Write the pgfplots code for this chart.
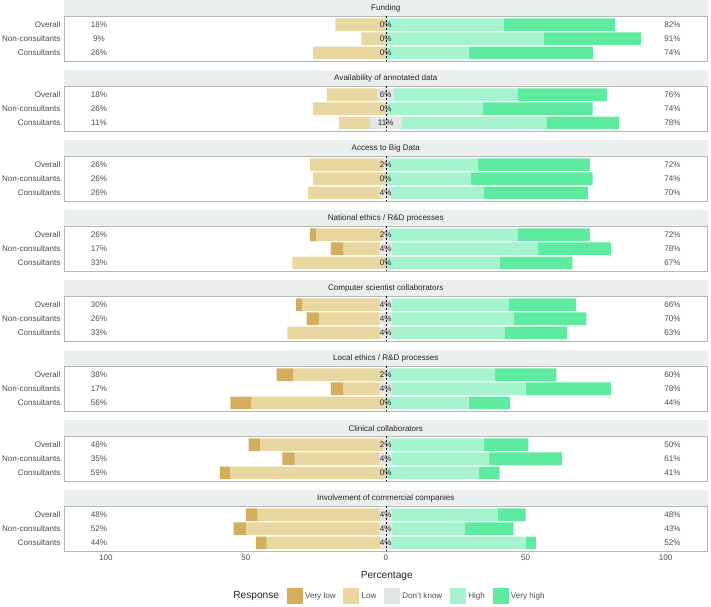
\documentclass[border=0pt]{standalone}
\usepackage{pgfplots}
\pgfplotsset{compat=1.18}
\usepackage{pgfplotstable}
\usepackage{fontspec}
\setmainfont{Liberation Sans}

\definecolor{cVL}{HTML}{D3AE5C}
\definecolor{cL}{HTML}{E9D7A1}
\definecolor{cN}{HTML}{E2E6E5}
\definecolor{cH}{HTML}{A5F4CF}
\definecolor{cVH}{HTML}{5EEBA0}
\definecolor{stripc}{HTML}{EBEFEE}
\definecolor{framec}{HTML}{B8B8B8}
\definecolor{txt}{HTML}{4D4D4D}
\definecolor{dtxt}{HTML}{262626}

% columns: y = row (1 Overall, 2 Non-consultants, 3 Consultants),
% s = left start of the bar (percent, 0 = centre), vl l n h vh = percentages,
% lp np hp = printed labels.  The x axis is drawn with its 0 at x = 200.
\pgfplotstableread{
y s vl l n h vh lp np hp
1 -18.00 0 18.00 0 42.00 40.00 18 0 82
2 -8.70 0 8.70 0 56.52 34.78 9 0 91
3 -25.93 0 25.93 0 29.63 44.44 26 0 74
}\tA
\pgfplotstableread{
y s vl l n h vh lp np hp
1 -21.00 0 18.00 6.00 44.00 32.00 18 6 76
2 -26.09 0 26.09 0 34.78 39.13 26 0 74
3 -16.67 0 11.11 11.11 51.85 25.93 11 11 78
}\tB
\pgfplotstableread{
y s vl l n h vh lp np hp
1 -27.00 0 26.00 2.00 32.00 40.00 26 2 72
2 -26.09 0 26.09 0 30.43 43.48 26 0 74
3 -27.78 0 25.93 3.70 33.33 37.04 26 4 70
}\tC
\pgfplotstableread{
y s vl l n h vh lp np hp
1 -27.00 2.00 24.00 2.00 46.00 26.00 26 2 72
2 -19.57 4.35 13.04 4.35 52.17 26.09 17 4 78
3 -33.33 0 33.33 0 40.74 25.93 33 0 67
}\tD
\pgfplotstableread{
y s vl l n h vh lp np hp
1 -32.00 2.00 28.00 4.00 42.00 24.00 30 4 66
2 -28.26 4.35 21.74 4.35 43.48 26.09 26 4 70
3 -35.19 0 33.33 3.70 40.74 22.22 33 4 63
}\tE
\pgfplotstableread{
y s vl l n h vh lp np hp
1 -39.00 6.00 32.00 2.00 38.00 22.00 38 2 60
2 -19.57 4.35 13.04 4.35 47.83 30.43 17 4 78
3 -55.56 7.41 48.15 0 29.63 14.81 56 0 44
}\tF
\pgfplotstableread{
y s vl l n h vh lp np hp
1 -49.00 4.00 44.00 2.00 34.00 16.00 48 2 50
2 -36.96 4.35 30.43 4.35 34.78 26.09 35 4 61
3 -59.26 3.70 55.56 0 33.33 7.41 59 0 41
}\tG
\pgfplotstableread{
y s vl l n h vh lp np hp
1 -50.00 4.00 44.00 4.00 38.00 10.00 48 4 48
2 -54.35 4.35 47.83 4.35 26.09 17.39 52 4 43
3 -46.30 3.70 40.74 3.70 48.15 3.70 44 4 52
}\tH

\newcommand\fsm{\fontsize{8.1}{9.5}\selectfont}
\newcommand\fbig{\fontsize{10.2}{12}\selectfont}

\pgfplotsset{
  facetbase/.style={
    width=643.5bp, height=45bp, scale only axis,
    xmin=85, xmax=315, ymin=0.4, ymax=3.6, y dir=reverse,
    anchor=north west,
    /pgf/number format/assume math mode=true,
  },
  barsaxis/.style={facetbase,
    xbar stacked, bar width=0.9,
    axis line style={framec, line width=0.6bp},
    ytick={1,2,3}, yticklabels={Overall,Non-consultants,Consultants},
    xtick=\empty,
    major tick length=0pt,
    tick label style={font=\fsm, text=txt},
    every axis title shift=0pt,
    title style={at={(0.5,1)}, anchor=south, fill=stripc,
      minimum width=643.5bp, minimum height=15.8bp, inner sep=0pt,
      font=\fsm, text=dtxt},
  },
  labaxis/.style={facetbase, hide axis, clip=false},
  sq/.style={legend image code/.code={\fill[##1] (0bp,-8bp) rectangle (16bp,8bp);}},
  labs/.style={only marks, mark=none, nodes near coords={\pgfmathprintnumber[fixed,precision=0]{\pgfplotspointmeta}\%},
    point meta=explicit, nodes near coords align={anchor=center},
    every node near coord/.append style={font=\fsm, text=#1, inner sep=0pt}},
}

% #1 index, #2 title, #3 table, #4 extra axis options
\newcommand\facet[4]{%
  \begin{axis}[barsaxis, at={(0bp,-70bp*#1)}, title={#2}, #4]
    \addplot[fill=none, draw=none] table[x expr=\thisrow{s}+200, y=y] {#3};
    \addplot[fill=cVL, draw=none] table[x=vl, y=y] {#3};
    \addplot[fill=cL,  draw=none] table[x=l,  y=y] {#3};
    \addplot[fill=cN,  draw=none] table[x=n,  y=y] {#3};
    \addplot[fill=cH,  draw=none] table[x=h,  y=y] {#3};
    \addplot[fill=cVH, draw=none] table[x=vh, y=y] {#3};
  \end{axis}
  \begin{axis}[labaxis, at={(0bp,-70bp*#1)}]
    \addplot[black, line width=0.5bp, dash pattern=on 2bp off 2bp] coordinates {(200,0.4) (200,3.6)};
    \addplot[labs=txt]  table[x expr=97.5,  y=y, meta=lp] {#3};
    \addplot[labs=dtxt] table[x expr=200,   y=y, meta=np] {#3};
    \addplot[labs=txt]  table[x expr=302.5, y=y, meta=hp] {#3};
  \end{axis}
}

\begin{document}
\begin{tikzpicture}
\useasboundingbox (-64bp,16.3bp) rectangle (647bp,-590.7bp);
\facet{0}{Funding}{\tA}{}
\facet{1}{Availability of annotated data}{\tB}{}
\facet{2}{Access to Big Data}{\tC}{}
\facet{3}{National ethics / R\&D processes}{\tD}{}
\facet{4}{Computer scientist collaborators}{\tE}{}
\facet{5}{Local ethics / R\&D processes}{\tF}{}
\facet{6}{Clinical collaborators}{\tG}{}
\facet{7}{Involvement of commercial companies}{\tH}{%
    xtick={100,150,200,250,300}, xticklabels={100,50,0,50,100},
    xticklabel style={font=\fsm, text=txt},
    xlabel={Percentage}, xlabel style={at={(axis description cs:0.5016,-0.55)}, anchor=center, font=\fbig, text=dtxt}}
% legend
\begin{axis}[labaxis, at={(0bp,-490bp)},
    legend style={at={(0.505,-0.993)}, anchor=center, draw=none, fill=none,
      legend columns=6, font=\fsm, text=txt, inner sep=0pt,
      nodes={inner sep=2.2bp},
      /tikz/every even column/.append style={column sep=5.6bp}},
    legend cell align=left]
  \addlegendimage{empty legend}\addlegendentry{\fbig\textcolor{dtxt}{Response}}
  \addlegendimage{sq, fill=cVL, draw=none}\addlegendentry{Very low}
  \addlegendimage{sq, fill=cL, draw=none}\addlegendentry{Low}
  \addlegendimage{sq, fill=cN, draw=none}\addlegendentry{Don't know}
  \addlegendimage{sq, fill=cH, draw=none}\addlegendentry{High}
  \addlegendimage{sq, fill=cVH, draw=none}\addlegendentry{Very high}
\end{axis}
\end{tikzpicture}
\end{document}
